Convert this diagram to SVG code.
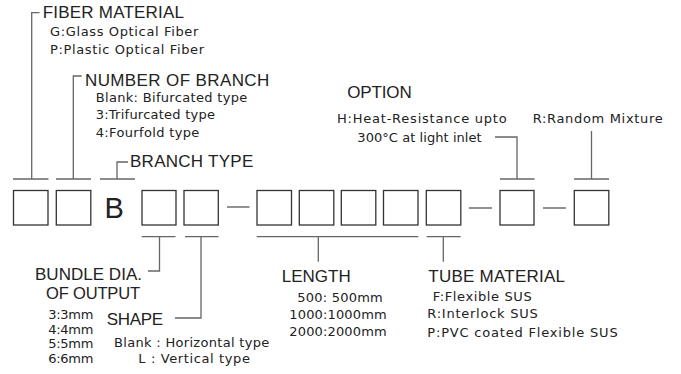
<svg xmlns="http://www.w3.org/2000/svg" width="681" height="374" viewBox="0 0 681 374">
<style>
.bg{fill:#fff}
.box{fill:#fff;stroke:#333;stroke-width:1.3}
.ln{fill:none;stroke:#666;stroke-width:1.3}
.dash{fill:none;stroke:#555;stroke-width:1.3}
.t{font-family:"Liberation Sans",Arial,sans-serif;font-size:17px;fill:#222}
.s{font-family:"DejaVu Sans",sans-serif;font-size:13px;fill:#222}
.big{font-family:"Liberation Sans",Arial,sans-serif;font-size:29px;fill:#222}
</style>
<rect class="bg" x="0" y="0" width="681" height="374"/>

<g id="connectors">
  <polyline class="ln" points="39.5,12.7 31.7,12.7 31.7,179"/>
  <line class="ln" x1="13" y1="179" x2="48.5" y2="179"/>
  <polyline class="ln" points="81.7,76 73.3,76 73.3,179"/>
  <line class="ln" x1="56" y1="179" x2="91" y2="179"/>
  <polyline class="ln" points="128,162 117,162 117,179"/>
  <line class="ln" x1="100" y1="179" x2="135" y2="179"/>
  <polyline class="ln" points="495,137 517,137 517,179"/>
  <line class="ln" x1="500" y1="179" x2="534.5" y2="179"/>
  <line class="ln" x1="591.5" y1="131" x2="591.5" y2="179"/>
  <line class="ln" x1="574" y1="179" x2="609" y2="179"/>
  <line class="ln" x1="141.7" y1="236.7" x2="175.5" y2="236.7"/>
  <polyline class="ln" points="159.5,236.7 159.5,271 148,271"/>
  <line class="ln" x1="185" y1="236.7" x2="218.5" y2="236.7"/>
  <polyline class="ln" points="201,236.7 201,318 175,318"/>
  <line class="ln" x1="256.7" y1="236.7" x2="418.3" y2="236.7"/>
  <line class="ln" x1="318.3" y1="236.7" x2="318.3" y2="261.7"/>
  <line class="ln" x1="426.7" y1="236.7" x2="460.7" y2="236.7"/>
  <line class="ln" x1="443.3" y1="236.7" x2="443.3" y2="261.7"/>
  <line class="dash" x1="227" y1="207" x2="249.5" y2="207"/>
  <line class="dash" x1="469" y1="208" x2="492" y2="208"/>
  <line class="dash" x1="543" y1="208" x2="566" y2="208"/>
</g>

<g id="box-fiber"><rect class="box" x="13.5" y="190.5" width="34.5" height="34.5"/></g>
<g id="box-branch-number"><rect class="box" x="56.3" y="190.5" width="34.5" height="34.5"/></g>
<g id="branch-type-B"><text class="big" x="104.5" y="218.3" textLength="20.5">B</text></g>
<g id="box-bundle"><rect class="box" x="142" y="190.5" width="34" height="34.5"/></g>
<g id="box-shape"><rect class="box" x="184" y="190.5" width="34.3" height="34.5"/></g>
<g id="box-length-1"><rect class="box" x="257" y="190.5" width="34.5" height="34.5"/></g>
<g id="box-length-2"><rect class="box" x="299.3" y="190.5" width="34.5" height="34.5"/></g>
<g id="box-length-3"><rect class="box" x="341.3" y="190.5" width="34.5" height="34.5"/></g>
<g id="box-length-4"><rect class="box" x="383.5" y="190.5" width="34.5" height="34.5"/></g>
<g id="box-tube"><rect class="box" x="426.3" y="190.5" width="34.5" height="34.5"/></g>
<g id="box-option"><rect class="box" x="500" y="190.5" width="34" height="34.5"/></g>
<g id="box-random"><rect class="box" x="574.3" y="190.5" width="34.5" height="34.5"/></g>

<g id="label-fiber-material">
  <text class="t" x="42.7" y="18.3" textLength="141.3">FIBER MATERIAL</text>
  <text class="s" x="50" y="36" textLength="148.3">G:Glass Optical Fiber</text>
  <text class="s" x="50" y="54.3" textLength="154">P:Plastic Optical Fiber</text>
</g>
<g id="label-number-of-branch">
  <text class="t" x="85" y="86" textLength="184.3">NUMBER OF BRANCH</text>
  <text class="s" x="95.7" y="101.7" textLength="151.6">Blank: Bifurcated type</text>
  <text class="s" x="95.7" y="119.3" textLength="119.3">3:Trifurcated type</text>
  <text class="s" x="95.7" y="137.3" textLength="103.6">4:Fourfold type</text>
</g>
<g id="label-branch-type">
  <text class="t" x="130" y="166.7" textLength="123.3">BRANCH TYPE</text>
</g>
<g id="label-option">
  <text class="t" x="347.3" y="98.3" textLength="64.4">OPTION</text>
  <text class="s" x="337" y="123.3" textLength="169.7">H:Heat-Resistance upto</text>
  <text class="s" x="357.3" y="141.7" textLength="124.4">300°C at light inlet</text>
</g>
<g id="label-random">
  <text class="s" x="532.7" y="123.3" textLength="130">R:Random Mixture</text>
</g>
<g id="label-bundle-dia">
  <text class="t" x="35" y="280" textLength="107">BUNDLE DIA.</text>
  <text class="t" x="46" y="298.5" style="font-size:16.5px" textLength="94">OF OUTPUT</text>
  <text class="s" x="48.3" y="318.5" textLength="45">3:3mm</text>
  <text class="s" x="48.3" y="333.5" textLength="45">4:4mm</text>
  <text class="s" x="48.3" y="348" textLength="45">5:5mm</text>
  <text class="s" x="48.3" y="362.5" textLength="45">6:6mm</text>
</g>
<g id="label-shape">
  <text class="t" x="106.7" y="325" textLength="56.3">SHAPE</text>
  <text class="s" x="114" y="346.7" textLength="155.3">Blank : Horizontal type</text>
  <text class="s" x="138.3" y="362.7" textLength="111.7">L : Vertical type</text>
</g>
<g id="label-length">
  <text class="t" x="281.7" y="281.7" textLength="69">LENGTH</text>
  <text class="s" x="297.3" y="301.7" textLength="85.4">500: 500mm</text>
  <text class="s" x="289.3" y="319.3" textLength="97.4">1000:1000mm</text>
  <text class="s" x="289.3" y="336" textLength="97.4">2000:2000mm</text>
</g>
<g id="label-tube-material">
  <text class="t" x="428.3" y="281.7" textLength="136.7">TUBE MATERIAL</text>
  <text class="s" x="432.7" y="300.7" textLength="99">F:Flexible SUS</text>
  <text class="s" x="427.3" y="318.3" textLength="110.4">R:Interlock SUS</text>
  <text class="s" x="427.3" y="336.7" textLength="190.4">P:PVC coated Flexible SUS</text>
</g>
</svg>
